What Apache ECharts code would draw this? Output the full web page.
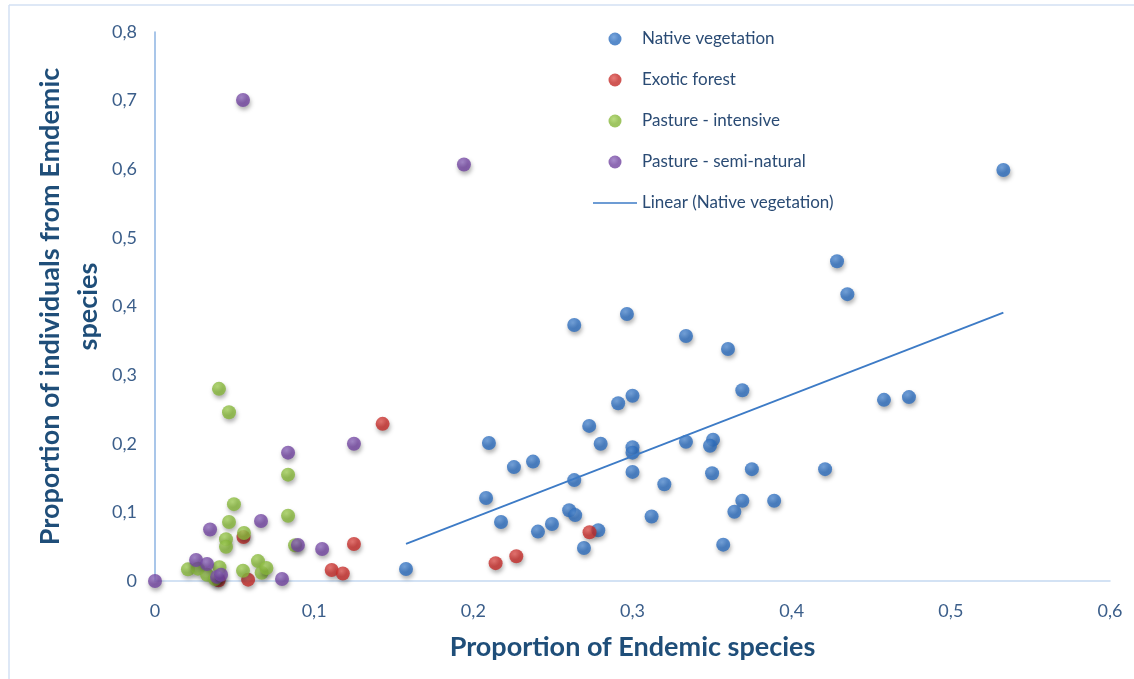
<!DOCTYPE html>
<html>
<head>
<meta charset="utf-8">
<script src="https://cdn.jsdelivr.net/npm/echarts@6/dist/echarts.min.js"></script>
<style>html,body{margin:0;padding:0;background:#fff;}#c{width:1134px;height:679px;}</style>
</head>
<body>
<div id="c"></div>
<script>
// ---- data (x = proportion of endemic species, y = proportion of individuals) ----
const nativeVeg = [
  [0.533,0.599],[0.4285,0.466],[0.435,0.418],[0.458,0.264],[0.4737,0.268],
  [0.421,0.163],[0.389,0.117],[0.369,0.278],[0.375,0.163],[0.369,0.117],
  [0.364,0.101],[0.357,0.053],[0.360,0.338],[0.3336,0.357],[0.3506,0.206],
  [0.3487,0.197],[0.350,0.157],[0.3336,0.203],[0.320,0.141],[0.312,0.094],
  [0.2965,0.389],[0.300,0.270],[0.291,0.259],[0.300,0.195],[0.300,0.187],
  [0.300,0.159],[0.2728,0.226],[0.280,0.200],[0.2785,0.074],[0.2695,0.048],
  [0.2634,0.373],[0.2634,0.147],[0.2602,0.103],[0.264,0.096],[0.2375,0.174],
  [0.2255,0.166],[0.2406,0.072],[0.2494,0.083],[0.2098,0.201],[0.208,0.121],
  [0.2174,0.086],[0.1577,0.0175]
];
const exoticForest = [
  [0.143,0.229],[0.125,0.054],[0.111,0.016],[0.118,0.011],[0.214,0.026],
  [0.227,0.036],[0.273,0.071],[0.0556,0.064],[0.0585,0.002],[0.040,0.001]
];
const pastureIntensive = [
  [0.0402,0.280],[0.0465,0.246],[0.0836,0.155],[0.0836,0.095],[0.0496,0.112],
  [0.0465,0.086],[0.0446,0.061],[0.0446,0.050],[0.0559,0.070],[0.088,0.052],
  [0.0207,0.017],[0.0270,0.018],[0.0327,0.009],[0.0405,0.020],[0.0377,0.003],
  [0.0553,0.015],[0.0647,0.029],[0.0670,0.012],[0.0700,0.019]
];
const pastureSemiNatural = [
  [0.0553,0.701],[0.1941,0.607],[0.0836,0.187],[0.125,0.200],[0.0666,0.0875],
  [0.0346,0.075],[0.0898,0.0525],[0.105,0.0466],[0.0798,0.003],[0.0258,0.0306],
  [0.0327,0.0248],[0.039,0.006],[0.0415,0.009],[0.0,0.0]
];
// trendline endpoints (Linear, Native vegetation)
const trendX = [0.1577, 0.533];
const trendY = [0.054, 0.391];
const xTicks = [0, 0.1, 0.2, 0.3, 0.4, 0.5, 0.6];
const yTicks = [0, 0.1, 0.2, 0.3, 0.4, 0.5, 0.6, 0.7, 0.8];
const seriesNames = ['Native vegetation','Exotic forest','Pasture - intensive','Pasture - semi-natural','Linear (Native vegetation)'];

const FONT = 'Lato, "Open Sans", sans-serif';
function fmt(v){ return v === 0 ? '0' : String(Math.round(v*10)/10).replace('.', ','); }
function ball(base, light){
  return {type:'radial', x:0.4, y:0.35, r:0.7,
    colorStops:[{offset:0,color:light},{offset:0.55,color:base},{offset:1,color:base}]};
}
function scatter(name, data, base, light){
  return {
    name, type:'scatter', data, symbol:'circle', symbolSize:14,
    itemStyle:{color:ball(base, light), shadowColor:'rgba(0,0,0,0.38)', shadowBlur:4, shadowOffsetX:1, shadowOffsetY:3},
    emphasis:{disabled:true}
  };
}
const trendData = trendX.map((x,i)=>[x, trendY[i]]);
const legendData = seriesNames.slice(0,4).map(n=>({name:n, icon:'circle'}));
legendData.push({name:seriesNames[4], icon:'path://M0,0H44V1.6H0Z', itemStyle:{color:'#3d7bc6'}});

const chart = echarts.init(document.getElementById('c'), null, {renderer:'canvas'});
chart.setOption({
  animation:false,
  backgroundColor:'#ffffff',
  grid:{left:155, right:24, top:32, bottom:98, containLabel:false},
  legend:{
    orient:'vertical', left:588, top:24, itemWidth:44, itemHeight:13, itemGap:21,
    symbolKeepAspect:true,
    data:legendData,
    textStyle:{color:'#2a4b74', fontFamily:FONT, fontSize:17, lineHeight:20},
    itemStyle:{shadowBlur:0, shadowOffsetX:0, shadowOffsetY:0}
  },
  xAxis:{
    type:'value', min:xTicks[0], max:xTicks[xTicks.length-1], interval:0.1,
    name:'Proportion of Endemic species', nameLocation:'middle', nameGap:53,
    nameTextStyle:{color:'#1f4e79', fontFamily:FONT, fontSize:27, fontWeight:'bold'},
    axisLine:{show:true, lineStyle:{color:'#c5d9f1', width:1.5}},
    axisTick:{show:false}, splitLine:{show:false},
    axisLabel:{formatter:fmt, color:'#3b5e8a', fontFamily:FONT, fontSize:18, margin:21}
  },
  yAxis:{
    type:'value', min:yTicks[0], max:yTicks[yTicks.length-1], interval:0.1,
    name:'Proportion of individuals from Emdemic\nspecies', nameLocation:'middle', nameGap:48,
    nameMoveOverlap:false,
    nameTextStyle:{color:'#1f4e79', fontFamily:FONT, fontSize:27, fontWeight:'bold', lineHeight:38, align:'center'},
    axisLine:{show:true, lineStyle:{color:'#8db3e2', width:1.5}},
    axisTick:{show:false}, splitLine:{show:false},
    axisLabel:{formatter:fmt, color:'#3b5e8a', fontFamily:FONT, fontSize:18, margin:18}
  },
  graphic:[
    {type:'line', shape:{x1:9, y1:5, x2:9, y2:679}, style:{stroke:'#d3e1f3', lineWidth:1.5}, silent:true},
    {type:'line', shape:{x1:9, y1:5, x2:1134, y2:5}, style:{stroke:'#d3e1f3', lineWidth:1.5}, silent:true}
  ],
  series:[
    scatter(seriesNames[0], nativeVeg, '#2d6dbd', '#5a92d6'),
    scatter(seriesNames[1], exoticForest, '#c42c29', '#e35a55'),
    scatter(seriesNames[2], pastureIntensive, '#86b63a', '#a8d45f'),
    scatter(seriesNames[3], pastureSemiNatural, '#7245a0', '#9370c0'),
    {name:seriesNames[4], type:'line', data:trendData, symbol:'none', showSymbol:false,
     lineStyle:{color:'#3d7bc6', width:1.8}, itemStyle:{color:'#3d7bc6'}, z:5, emphasis:{disabled:true}}
  ]
});
</script>
</body>
</html>
